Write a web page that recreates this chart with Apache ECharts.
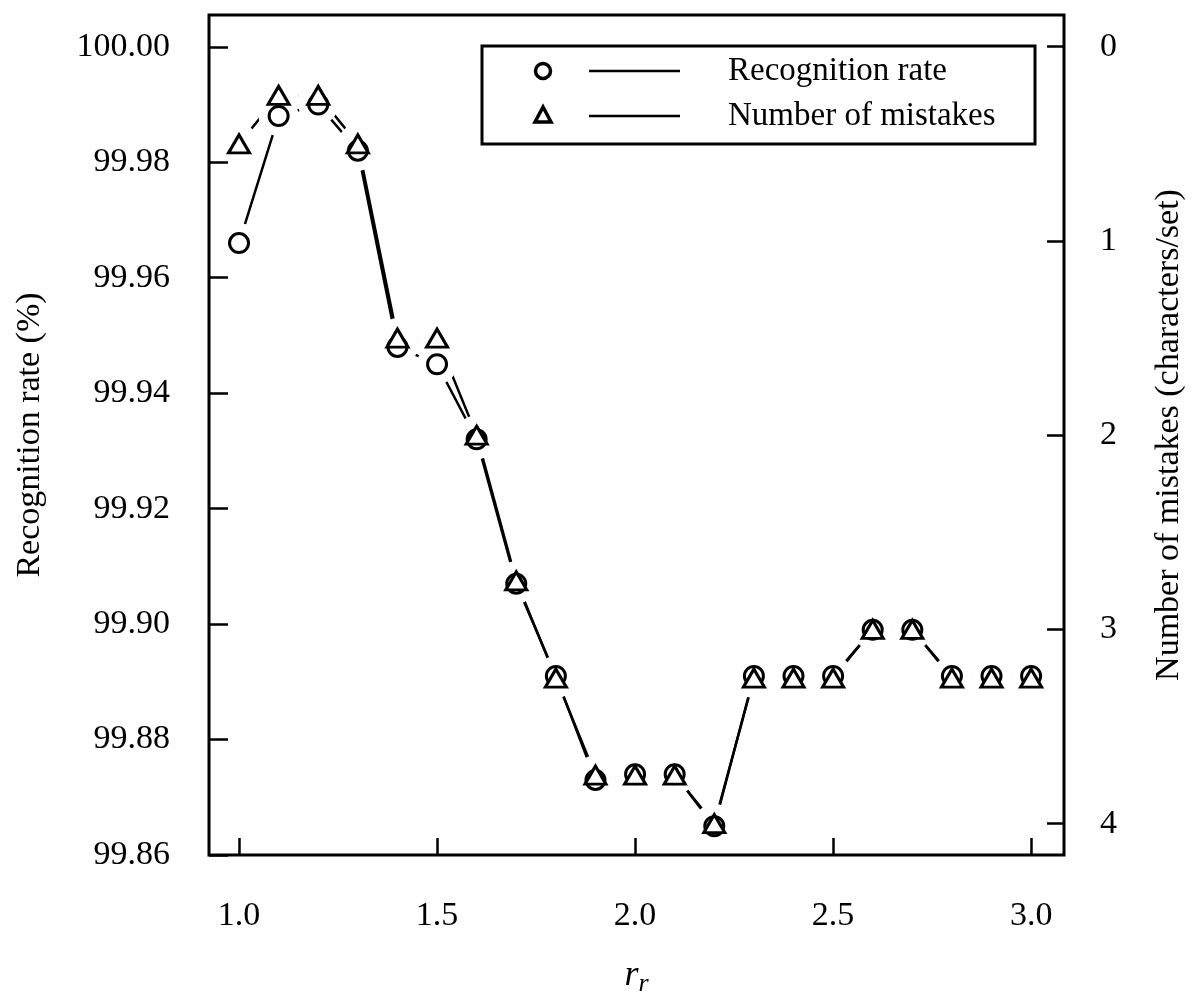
<!DOCTYPE html>
<html>
<head>
<meta charset="utf-8">
<script src="https://cdn.jsdelivr.net/npm/echarts@6/dist/echarts.min.js"></script>
<style>
html,body{margin:0;padding:0;background:#fff;}
#chart{width:1197px;height:1002px;}
</style>
</head>
<body>
<div id="chart"></div>
<script>
// ---- data ----
const rr = [1.0, 1.1, 1.2, 1.3, 1.4, 1.5, 1.6, 1.7, 1.8, 1.9, 2.0, 2.1, 2.2, 2.3, 2.4, 2.5, 2.6, 2.7, 2.8, 2.9, 3.0];
const recognitionRate = [99.966, 99.988, 99.990, 99.982, 99.948, 99.945, 99.932, 99.907, 99.891, 99.873, 99.874, 99.874, 99.865, 99.891, 99.891, 99.891, 99.899, 99.899, 99.891, 99.891, 99.891];
const mistakes = [0.5, 0.25, 0.25, 0.5, 1.5, 1.5, 2.0, 2.75, 3.25, 3.75, 3.75, 3.75, 4.0, 3.25, 3.25, 3.25, 3.0, 3.0, 3.25, 3.25, 3.25];
const xTicks = [1.0, 1.5, 2.0, 2.5, 3.0];
const rateTicks = [99.86, 99.88, 99.90, 99.92, 99.94, 99.96, 99.98, 100.00];
const mistakeTicks = [0, 1, 2, 3, 4];
const legendNames = ['Recognition rate', 'Number of mistakes'];

const FONT = '"Liberation Serif", "Times New Roman", serif';
const rateData = rr.map((x, i) => [x, recognitionRate[i]]);
const mistakeData = rr.map((x, i) => [x, mistakes[i]]);

const chart = echarts.init(document.getElementById('chart'), null, {renderer: 'canvas'});
const tickStyle = {color: '#000', width: 2.5};
const labelStyle = {color: '#000', fontFamily: FONT, fontSize: 34};

chart.setOption({
  backgroundColor: '#fff',
  animation: false,
  grid: {left: 209, right: 133, top: 15, bottom: 140, show: true, borderColor: '#000', borderWidth: 3, backgroundColor: 'transparent'},
  xAxis: {
    type: 'value', min: 0.9242, max: 3.083,
    name: '{i|r}{s|r}', nameLocation: 'middle', nameGap: 100,
    nameTextStyle: {rich: {
      i: {fontFamily: FONT, fontStyle: 'italic', fontSize: 36, color: '#000'},
      s: {fontFamily: FONT, fontStyle: 'italic', fontSize: 26, color: '#000', padding: [16, 0, 0, 0]}
    }},
    axisLine: {show: false, onZero: false},
    splitLine: {show: false},
    axisTick: {show: true, inside: true, length: 17, lineStyle: tickStyle, customValues: xTicks},
    axisLabel: Object.assign({margin: 44, customValues: xTicks, formatter: v => v.toFixed(1)}, labelStyle)
  },
  yAxis: [{
    type: 'value', position: 'left', min: 99.86, max: 100.0055,
    name: 'Recognition rate (%)', nameLocation: 'middle', nameRotate: 90, nameGap: 162,
    nameTextStyle: {fontFamily: FONT, fontSize: 34, color: '#000'},
    axisLine: {show: false, onZero: false},
    splitLine: {show: false},
    axisTick: {show: true, inside: true, length: 19, lineStyle: tickStyle, customValues: rateTicks},
    axisLabel: Object.assign({margin: 39, customValues: rateTicks, formatter: v => v.toFixed(2)}, labelStyle)
  }, {
    type: 'value', position: 'right', inverse: true, min: -0.1634, max: 4.161,
    name: 'Number of mistakes (characters/set)', nameLocation: 'middle', nameRotate: 90, nameGap: 88,
    nameTextStyle: {fontFamily: FONT, fontSize: 34, color: '#000'},
    axisLine: {show: false, onZero: false},
    splitLine: {show: false},
    axisTick: {show: true, inside: true, length: 17, lineStyle: tickStyle, customValues: mistakeTicks},
    axisLabel: Object.assign({margin: 36, customValues: mistakeTicks, formatter: v => String(Math.round(v))}, labelStyle)
  }],
  series: [
    {name: legendNames[0], type: 'line', yAxisIndex: 0, data: rateData, showSymbol: false, z: 1,
     lineStyle: {color: '#000', width: 2.5}, silent: true},
    {name: legendNames[1], type: 'line', yAxisIndex: 1, data: mistakeData, showSymbol: false, z: 1,
     lineStyle: {color: '#000', width: 2.5}, silent: true},
    {type: 'scatter', yAxisIndex: 0, data: rateData, symbol: 'circle', symbolSize: 40, z: 2, silent: true,
     itemStyle: {color: '#fff', opacity: 1}},
    {type: 'scatter', yAxisIndex: 1, data: mistakeData, symbol: 'circle', symbolSize: 40, z: 2, silent: true,
     itemStyle: {color: '#fff', opacity: 1}},
    {name: legendNames[0], type: 'scatter', yAxisIndex: 0, data: rateData, symbol: 'circle', symbolSize: 19, z: 3, silent: true,
     itemStyle: {color: '#fff', borderColor: '#000', borderWidth: 3, opacity: 1}},
    {name: legendNames[1], type: 'scatter', yAxisIndex: 1, data: mistakeData, symbol: 'triangle', symbolSize: [21, 18], z: 4, silent: true,
     itemStyle: {color: '#fff', borderColor: '#000', borderWidth: 3, opacity: 1}}
  ],
  graphic: [
    {type: 'rect', shape: {x: 482, y: 46, width: 553, height: 98}, style: {fill: '#fff', stroke: '#000', lineWidth: 3}, z: 10},
    {type: 'circle', shape: {cx: 543, cy: 71, r: 7.5}, style: {fill: '#fff', stroke: '#000', lineWidth: 3.5}, z: 11},
    {type: 'line', shape: {x1: 589, y1: 71, x2: 680, y2: 71}, style: {stroke: '#000', lineWidth: 2.5}, z: 11},
    {type: 'text', x: 728, y: 71, style: {text: legendNames[0], font: '33px ' + FONT, fill: '#000', verticalAlign: 'middle'}, z: 11},
    {type: 'polygon', shape: {points: [[543, 107], [535, 122], [551, 122]]}, style: {fill: '#fff', stroke: '#000', lineWidth: 3.5}, z: 11},
    {type: 'line', shape: {x1: 589, y1: 116, x2: 680, y2: 116}, style: {stroke: '#000', lineWidth: 2.5}, z: 11},
    {type: 'text', x: 728, y: 116, style: {text: legendNames[1], font: '33px ' + FONT, fill: '#000', verticalAlign: 'middle'}, z: 11}
  ]
});
</script>
</body>
</html>
